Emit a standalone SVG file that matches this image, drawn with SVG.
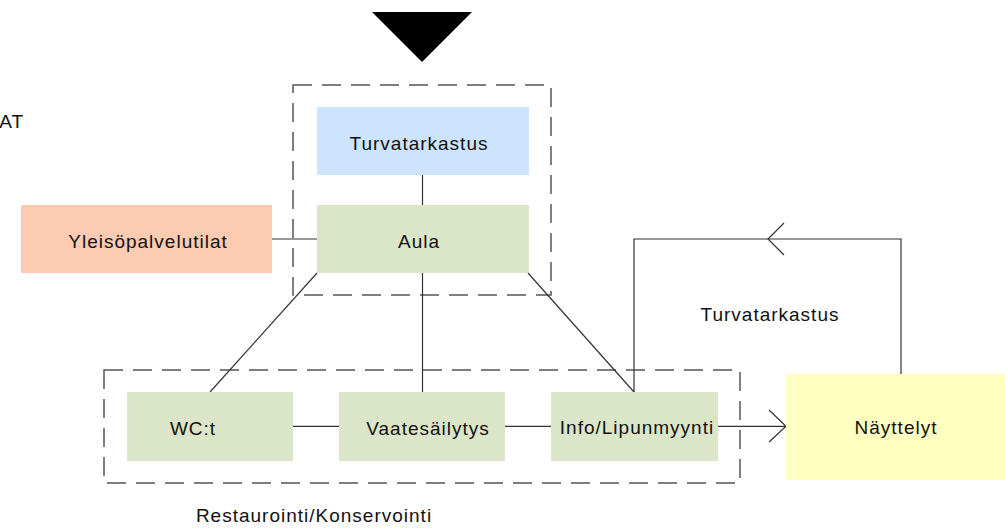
<svg xmlns="http://www.w3.org/2000/svg" width="1005" height="530" viewBox="0 0 1005 530">
<style>
text{font-family:"Liberation Sans",Arial,sans-serif;font-size:19px;fill:#111;letter-spacing:1px}
.c{text-anchor:middle}
.grp{fill:none;stroke:#555;stroke-width:1.5;stroke-dasharray:19 10}
.ln{fill:none;stroke:#333;stroke-width:1.2}
.blue{fill:#cce4fd}
.green{fill:#dbe6c8}
.orange{fill:#fdcbb1}
.yellow{fill:#ffffc0}
</style>
<rect width="1005" height="530" fill="#fff"/>
<polygon points="372,12 472,12 422,62" fill="#000"/>
<text x="24" y="128" text-anchor="end">AT</text>
<g id="group-top"><rect class="grp" x="293" y="85" width="258" height="210"/></g>
<g id="group-bottom"><rect class="grp" x="104" y="370" width="636" height="113"/></g>
<g id="connectors">
<line class="ln" x1="422.5" y1="175" x2="422.5" y2="205"/>
<line class="ln" x1="272" y1="239" x2="317" y2="239"/>
<line class="ln" x1="317" y1="273" x2="210" y2="392"/>
<line class="ln" x1="422.5" y1="273" x2="422.5" y2="392"/>
<line class="ln" x1="528" y1="273" x2="634" y2="392"/>
<line class="ln" x1="293" y1="426.3" x2="339" y2="426.3"/>
<line class="ln" x1="505" y1="426.3" x2="551" y2="426.3"/>
<line class="ln" x1="718" y1="426.3" x2="786" y2="426.3"/>
<polyline class="ln" points="769,410 786,426.3 769,442"/>
<polyline class="ln" points="634,392 634,239 901,239 901,374"/>
<polyline class="ln" points="784,223 768,239 784,255"/>
</g>
<g id="node-turvatarkastus"><rect class="blue" x="317" y="107" width="212" height="68"/><text class="c" x="419" y="150">Turvatarkastus</text></g>
<g id="node-aula"><rect class="green" x="317" y="205" width="212" height="68"/><text class="c" x="419" y="248">Aula</text></g>
<g id="node-yleiso"><rect class="orange" x="21" y="205" width="251" height="68"/><text class="c" x="148" y="248">Yleisöpalvelutilat</text></g>
<g id="node-wc"><rect class="green" x="127" y="392" width="166" height="69"/><text class="c" x="193" y="435">WC:t</text></g>
<g id="node-vaate"><rect class="green" x="339" y="392" width="166" height="69"/><text class="c" x="428" y="435">Vaatesäilytys</text></g>
<g id="node-info"><rect class="green" x="551" y="392" width="167" height="69"/><text class="c" x="637" y="434">Info/Lipunmyynti</text></g>
<g id="node-nayttelyt"><rect class="yellow" x="786" y="374" width="219" height="106"/><text class="c" x="896" y="434">Näyttelyt</text></g>
<g id="label-turva"><text class="c" x="770" y="321">Turvatarkastus</text></g>
<g id="label-restaurointi"><text class="c" x="314" y="522">Restaurointi/Konservointi</text></g>
</svg>
